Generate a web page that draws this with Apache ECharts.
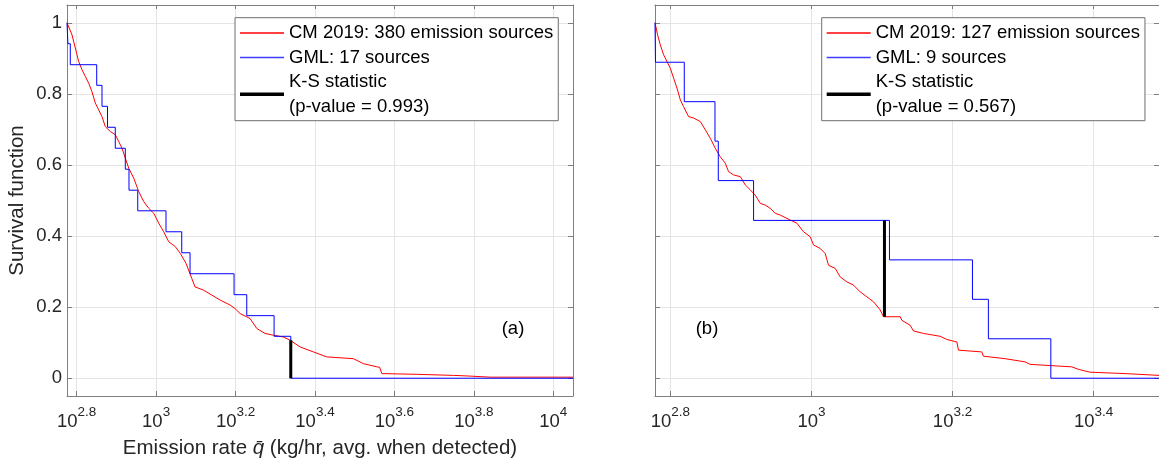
<!DOCTYPE html>
<html>
<head>
<meta charset="utf-8">
<title>Survival function</title>
<script src="https://cdn.jsdelivr.net/npm/echarts@6.0.0/dist/echarts.min.js"></script>
<style>
  html, body { margin: 0; padding: 0; background: #fff; }
  #chart { width: 1159px; height: 461px; }
</style>
</head>
<body>
<div id="chart"></div>
<script>
// x values are log10 of the emission rate (kg/hr), y values are the survival function

// panel (a)
const aCmLogQ = [2.7756, 2.7882, 2.7965, 2.8050, 2.8134, 2.8217, 2.8302, 2.8385, 2.8469, 2.8554, 2.8637, 2.8720, 2.8846, 2.8972, 2.9058, 2.9141, 2.9224, 2.9310, 2.9436, 2.9562, 2.9688, 2.9814, 2.9940, 3.0066, 3.0191, 3.0317, 3.0484, 3.0610, 3.0753, 3.0897, 3.0980, 3.1189, 3.1400, 3.1610, 3.1861, 3.1987, 3.2113, 3.2365, 3.2534, 3.2743, 3.2952, 3.3204, 3.3373, 3.3625, 3.3960, 3.4297, 3.4967, 3.5219, 3.5557, 3.5627, 3.5683, 3.6564, 3.7486, 3.7907, 3.8411, 4.0496]
const aCmS = [1.000, 0.966, 0.929, 0.891, 0.868, 0.849, 0.830, 0.806, 0.774, 0.755, 0.736, 0.708, 0.694, 0.685, 0.666, 0.647, 0.619, 0.591, 0.563, 0.525, 0.497, 0.478, 0.464, 0.436, 0.412, 0.384, 0.370, 0.351, 0.323, 0.281, 0.257, 0.248, 0.234, 0.220, 0.206, 0.196, 0.182, 0.168, 0.140, 0.126, 0.121, 0.116, 0.107, 0.088, 0.074, 0.060, 0.055, 0.041, 0.032, 0.031, 0.013, 0.011, 0.008, 0.006, 0.003, 0.003]
const aGmlLogQ = [2.7756, 2.7779, 2.7839, 2.8504, 2.8637, 2.8776, 2.8972, 2.9224, 2.9317, 2.9537, 3.0249, 3.0645, 3.0854, 3.1962, 3.2282, 3.2970, 3.3390, 4.0496]
const aGmlS = [1, 0.941, 0.882, 0.824, 0.765, 0.706, 0.647, 0.588, 0.529, 0.471, 0.412, 0.353, 0.294, 0.235, 0.176, 0.118, 0, 0]
const aKsLogQ = 3.339
const aKsS = [0, 0.107]

// panel (b)
const bCmLogQ = [2.7783, 2.7820, 2.7858, 2.7905, 2.7953, 2.8000, 2.8047, 2.8095, 2.8142, 2.8188, 2.8259, 2.8330, 2.8425, 2.8496, 2.8567, 2.8637, 2.8708, 2.8779, 2.8826, 2.8897, 2.8992, 2.9062, 2.9133, 2.9204, 2.9275, 2.9346, 2.9416, 2.9487, 2.9558, 2.9700, 2.9795, 2.9888, 2.9983, 3.0030, 3.0125, 3.0195, 3.0242, 3.0337, 3.0408, 3.0503, 3.0596, 3.0691, 3.0786, 3.0880, 3.0975, 3.1021, 3.1258, 3.1282, 3.1399, 3.1446, 3.1588, 3.1824, 3.1919, 3.2061, 3.2084, 3.2415, 3.2438, 3.2745, 3.3028, 3.3099, 3.3690, 3.3783, 3.3949, 3.4445, 3.4469, 3.4926]
const bCmS = [1.000, 0.966, 0.938, 0.910, 0.891, 0.872, 0.844, 0.816, 0.783, 0.764, 0.736, 0.732, 0.722, 0.699, 0.675, 0.647, 0.623, 0.605, 0.581, 0.572, 0.567, 0.544, 0.530, 0.515, 0.492, 0.487, 0.478, 0.464, 0.459, 0.445, 0.436, 0.412, 0.398, 0.375, 0.365, 0.351, 0.318, 0.309, 0.285, 0.271, 0.262, 0.243, 0.229, 0.215, 0.192, 0.173, 0.173, 0.163, 0.149, 0.133, 0.126, 0.118, 0.109, 0.102, 0.079, 0.074, 0.062, 0.055, 0.046, 0.039, 0.032, 0.025, 0.017, 0.013, 0.008, 0.008]
const bGmlLogQ = [2.7783, 2.7790, 2.8198, 2.8633, 2.8680, 2.9180, 3.1106, 3.2282, 3.2508, 3.3393, 3.4926]
const bGmlS = [1, 0.889, 0.778, 0.667, 0.556, 0.444, 0.333, 0.222, 0.111, 0, 0]
const bKsLogQ = 3.1035
const bKsS = [0.173, 0.444]

// ticks
const xTicksA = [2.8, 3, 3.2, 3.4, 3.6, 3.8, 4]
const xTicksB = [2.8, 3, 3.2, 3.4]
const yTicks = [0, 0.2, 0.4, 0.6, 0.8, 1]

const names = {
  aCm: 'CM 2019: 380 emission sources',
  aGml: 'GML: 17 sources',
  aKs: 'K-S statistic\n(p-value = 0.993)',
  bCm: 'CM 2019: 127 emission sources',
  bGml: 'GML: 9 sources',
  bKs: 'K-S statistic\n(p-value = 0.567)'
}

const RED = '#ff0000'
const BLUE = '#0000ff'
const BLACK = '#000000'

const FONT = '"Liberation Sans", Arial, sans-serif'
const AXIS_COLOR = '#7f7f7f'
const TEXT_COLOR = '#262626'

function pairs(xs, ys) {
  return xs.map((x, i) => [x, ys[i]])
}

function xAxes(gridIndex, min, max, ticks, name) {
  const bottom = {
    type: 'value',
    gridIndex: gridIndex,
    position: 'bottom',
    min: min,
    max: max,
    axisLine: { onZero: false, lineStyle: { color: AXIS_COLOR } },
    axisTick: { inside: true, length: 5, customValues: ticks, lineStyle: { color: AXIS_COLOR } },
    axisLabel: {
      customValues: ticks,
      margin: 9,
      formatter: v => '{b|10}{s|' + (+v.toFixed(1)) + '}',
      rich: {
        b: { fontFamily: FONT, fontSize: 18.5, color: TEXT_COLOR, verticalAlign: 'bottom', lineHeight: 26 },
        s: { fontFamily: FONT, fontSize: 13.5, color: TEXT_COLOR, verticalAlign: 'top', lineHeight: 26 }
      }
    },
    splitLine: { show: true, lineStyle: { color: '#e4e4e4' } }
  }
  if (name) {
    bottom.name = name
    bottom.nameLocation = 'middle'
    bottom.nameGap = 42
    bottom.nameTextStyle = {
      fontFamily: FONT, fontSize: 20.5, color: TEXT_COLOR,
      rich: { q: { fontFamily: FONT, fontSize: 20.5, color: TEXT_COLOR, fontStyle: 'italic' } }
    }
  }
  const top = {
    type: 'value',
    gridIndex: gridIndex,
    position: 'top',
    min: min,
    max: max,
    axisLine: { onZero: false, lineStyle: { color: AXIS_COLOR } },
    axisTick: { inside: true, length: 4, customValues: ticks, lineStyle: { color: AXIS_COLOR } },
    axisLabel: { show: false },
    splitLine: { show: false }
  }
  return [bottom, top]
}

function yAxes(gridIndex, showLabels) {
  const left = {
    type: 'value',
    gridIndex: gridIndex,
    position: 'left',
    min: -0.05,
    max: 1.05,
    axisLine: { show: true, onZero: false, lineStyle: { color: AXIS_COLOR } },
    axisTick: { show: true, inside: true, length: 5, customValues: yTicks, lineStyle: { color: AXIS_COLOR } },
    axisLabel: {
      show: showLabels,
      customValues: yTicks,
      margin: 5,
      fontFamily: FONT,
      fontSize: 18.5,
      color: TEXT_COLOR
    },
    splitLine: { show: true, lineStyle: { color: '#e4e4e4' } }
  }
  if (showLabels) {
    left.name = 'Survival function'
    left.nameLocation = 'middle'
    left.nameGap = 39
    left.nameTextStyle = { fontFamily: FONT, fontSize: 20.5, color: TEXT_COLOR }
  }
  const right = {
    type: 'value',
    gridIndex: gridIndex,
    position: 'right',
    min: -0.05,
    max: 1.05,
    axisLine: { show: true, onZero: false, lineStyle: { color: AXIS_COLOR } },
    axisTick: { show: true, inside: true, length: 5, customValues: yTicks, lineStyle: { color: AXIS_COLOR } },
    axisLabel: { show: false },
    splitLine: { show: false }
  }
  return [left, right]
}

function legend(left, items) {
  return {
    orient: 'vertical',
    left: left,
    top: 17.7,
    padding: [3, 5, 2, 5],
    itemGap: 0,
    itemWidth: 44,
    itemHeight: 4,
    selectedMode: false,
    backgroundColor: '#fff',
    borderColor: '#6e6e6e',
    borderWidth: 1,
    borderRadius: 0,
    textStyle: { fontFamily: FONT, fontSize: 18.5, color: '#000', lineHeight: 24.5 },
    data: [
      { name: items[0], icon: 'path://M0,0H44V1.5H0Z', itemStyle: { color: RED, borderWidth: 0 } },
      { name: items[1], icon: 'path://M0,0H44V1.5H0Z', itemStyle: { color: '#3d3dff', borderWidth: 0 } },
      { name: items[2], icon: 'path://M0,0H44V3.5H0Z', itemStyle: { color: BLACK, borderWidth: 0 } }
    ]
  }
}

function line(name, data, color, width, axisIdx, step) {
  return {
    name: name,
    type: 'line',
    xAxisIndex: axisIdx,
    yAxisIndex: axisIdx,
    data: data,
    step: step,
    symbol: 'none',
    color: color,
    itemStyle: { color: color },
    lineStyle: { color: color, width: width },
    emphasis: { disabled: true }
  }
}

const chart = echarts.init(document.getElementById('chart'))

const xa = xAxes(0, 2.7756, 4.0496, xTicksA, 'Emission rate {q|q\u0304} (kg/hr, avg. when detected)')
const xb = xAxes(1, 2.7783, 3.4926, xTicksB, null)
const ya = yAxes(0, true)
const yb = yAxes(1, false)

chart.setOption({
  animation: false,
  backgroundColor: '#fff',
  grid: [
    { left: 67, right: 586, top: 5, bottom: 65, outerBoundsMode: 'none' },
    { left: 655, right: 0, top: 5, bottom: 65, outerBoundsMode: 'none' }
  ],
  xAxis: [xa[0], xb[0], xa[1], xb[1]],
  yAxis: [ya[0], yb[0], ya[1], yb[1]],
  legend: [
    legend(235, [names.aCm, names.aGml, names.aKs]),
    legend(821.7, [names.bCm, names.bGml, names.bKs])
  ],
  graphic: [
    { type: 'text', x: 513, y: 329, style: { text: '(a)', fontFamily: FONT, fontSize: 18.5, fill: '#000', align: 'center', verticalAlign: 'middle' } },
    { type: 'text', x: 707, y: 329, style: { text: '(b)', fontFamily: FONT, fontSize: 18.5, fill: '#000', align: 'center', verticalAlign: 'middle' } }
  ],
  series: [
    line(names.aCm, pairs(aCmLogQ, aCmS), RED, 1, 0, false),
    line(names.aGml, pairs(aGmlLogQ, aGmlS), BLUE, 1, 0, 'end'),
    line(names.aKs, aKsS.map(s => [aKsLogQ, s]), BLACK, 3, 0, false),
    line(names.bCm, pairs(bCmLogQ, bCmS), RED, 1, 1, false),
    line(names.bGml, pairs(bGmlLogQ, bGmlS), BLUE, 1, 1, 'end'),
    line(names.bKs, bKsS.map(s => [bKsLogQ, s]), BLACK, 3, 1, false)
  ]
})
</script>
</body>
</html>
